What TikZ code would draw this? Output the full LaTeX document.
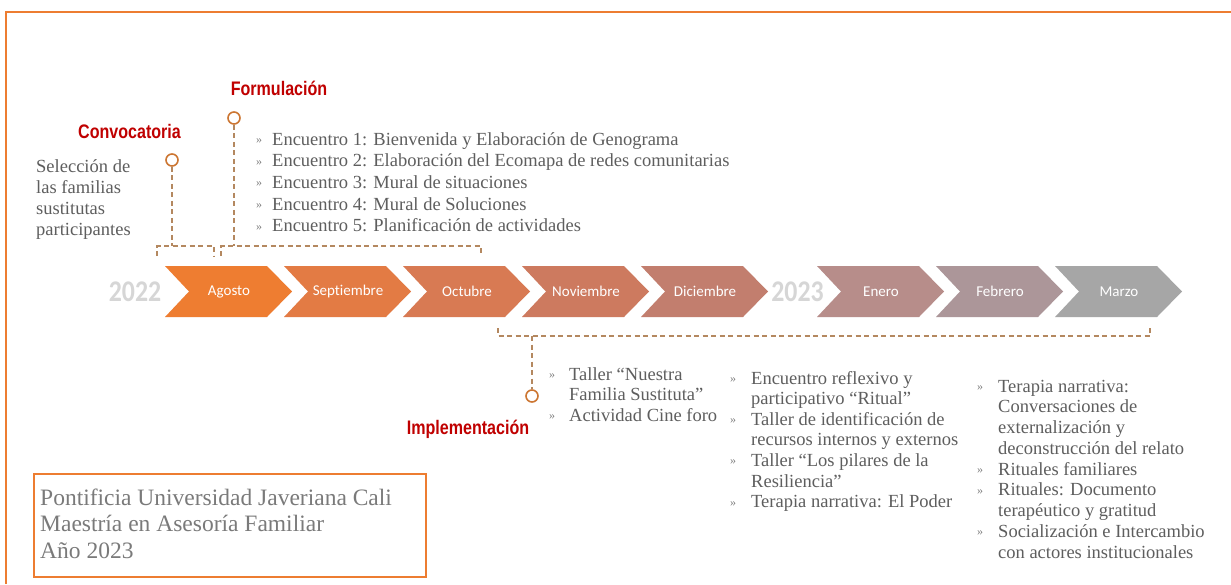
\documentclass[tikz,border=0pt]{standalone}
\usepackage{fontspec}
\usepackage{graphicx}
\setmainfont{Liberation Serif}
\newfontfamily\calib[Ligatures=NoCommon]{Carlito}
\newfontfamily\headfont{Liberation Sans}
\usetikzlibrary{calc}

\definecolor{frameC}{HTML}{ED7D31}
\definecolor{headC}{HTML}{C00000}
\definecolor{ringC}{HTML}{CC7632}
\definecolor{dashC}{HTML}{B48860}
\definecolor{txtC}{HTML}{5E5E5E}
\definecolor{boxTxt}{HTML}{7A7A7A}
\definecolor{bulC}{HTML}{808080}
\definecolor{yearC}{HTML}{D6D6D6}
\definecolor{mAgo}{HTML}{EE7D31}
\definecolor{mSep}{HTML}{E37B44}
\definecolor{mOct}{HTML}{D87A53}
\definecolor{mNov}{HTML}{CD7A5F}
\definecolor{mDic}{HTML}{C27E6E}
\definecolor{mEne}{HTML}{B78D8A}
\definecolor{mFeb}{HTML}{AC9699}
\definecolor{mMar}{HTML}{A6A6A6}

\newcommand\bul{\raisebox{1.5pt}{\color{bulC}\fontsize{12}{12}\selectfont »}}

\tikzset{
  monthlbl/.style={font=\calib\fontsize{15}{18}\selectfont, text=white, inner sep=0},
  yearlbl/.style={font=\calib\bfseries\fontsize{30}{32}\selectfont, text=yearC, inner sep=0},
  phase/.style={font=\headfont\bfseries\fontsize{19.6}{22}\selectfont, text=headC, inner sep=0, anchor=base},
  ring/.style={circle, draw=ringC, line width=1.6pt, minimum size=12pt, inner sep=0, fill=white},
  dline/.style={draw=dashC, line width=1.2pt, dash pattern=on 5pt off 3.5pt},
  listtxt/.style={font=\fontsize{18.5}{20.6}\selectfont, text=txtC, inner sep=0, anchor=base west},
}

\begin{document}
\begin{tikzpicture}[x=1pt, y=-1pt]
  \useasboundingbox (0,0) rectangle (1231,584);
  \fill[white] (0,0) rectangle (1231,584);

  % outer frame (top and left edges visible)
  \draw[frameC, line width=2pt] (6,584) -- (6,12) -- (1231,12);

  % month chevrons
  \foreach \L/\c/\m/\n in {165/mAgo/Agosto/ago, 284/mSep/Septiembre/sep, 403/mOct/Octubre/oct,
                           522/mNov/Noviembre/nov, 641/mDic/Diciembre/dic, 817/mEne/Enero/ene,
                           936/mFeb/Febrero/feb, 1055/mMar/Marzo/mar}{
    \fill[\c] (\L,266) -- ++(102,0) -- ++(25,25.5) -- ++(-25,25.5) -- ++(-102,0) -- ++(24,-25.5) -- cycle;
    \node[monthlbl] (\n) at (\L+64,291.5) {\m};
  }
  \node[yearlbl] (y22) at (135,291.5) {\scalebox{0.86}[1]{2022}};
  \node[yearlbl] (y23) at (797.5,291.5) {\scalebox{0.86}[1]{2023}};

  % phase headings and markers
  \node[phase] (convT) at (129.5,138) {\scalebox{0.82}[1]{Convocatoria}};
  \node[phase] (formT) at (279,95) {\scalebox{0.82}[1]{Formulación}};
  \node[phase] (implT) at (468,434) {\scalebox{0.82}[1]{Implementación}};

  \node[ring] (convC) at (172,160) {};
  \node[ring] (formC) at (234,118) {};
  \node[ring] (implC) at (532,396) {};

  % brackets over / under the months
  \coordinate (cbL) at (157,256); \coordinate (cbR) at (214,256);
  \coordinate (fbL) at (221,256); \coordinate (fbR) at (481,256);
  \coordinate (ibL) at (498,328); \coordinate (ibR) at (1150,328);

  \draw[dline] (cbL) -- ++(0,-10) -| (cbR);
  \draw[dline] (fbL) -- ++(0,-10) -| (fbR);
  \draw[dline] (ibL) -- ++(0,8) -| (ibR);

  \draw[dline] (convC.south) -- (convC.south |- 0,246);
  \draw[dline] (formC.south) -- (formC.south |- 0,246);
  \draw[dline] (implC.north |- 0,336) -- (implC.north);

  % texts
  \node[listtxt, font=\fontsize{18.5}{21.3}\selectfont] (sel) at (36,172)
    {\begin{tabular}[t]{@{}l@{}}
      Selección de\\las familias\\sustitutas\\participantes
    \end{tabular}};

  \node[listtxt, font=\fontsize{18.5}{21.7}\selectfont] (formL) at (256,145)
    {\begin{tabular}[t]{@{}l@{\hspace{10pt}}l@{}}
      \bul & Encuentro 1: Bienvenida y Elaboración de Genograma\\
      \bul & Encuentro 2: Elaboración del Ecomapa de redes comunitarias\\
      \bul & Encuentro 3: Mural de situaciones\\
      \bul & Encuentro 4: Mural de Soluciones\\
      \bul & Encuentro 5: Planificación de actividades
    \end{tabular}};

  \node[listtxt] (impl1) at (549,380)
    {\begin{tabular}[t]{@{}l@{\hspace{14pt}}l@{}}
      \bul & Taller “Nuestra\\
           & Familia Sustituta"\\
      \bul & Actividad Cine foro
    \end{tabular}};

  \node[listtxt] (impl2) at (730,384)
    {\begin{tabular}[t]{@{}l@{\hspace{15pt}}l@{}}
      \bul & Encuentro reflexivo y\\
           & participativo “Ritual”\\
      \bul & Taller de identificación de\\
           & recursos internos y externos\\
      \bul & Taller “Los pilares de la\\
           & Resiliencia”\\
      \bul & Terapia narrativa: El Poder
    \end{tabular}};

  \node[listtxt, font=\fontsize{18.5}{20.75}\selectfont] (impl3) at (977,392)
    {\begin{tabular}[t]{@{}l@{\hspace{15pt}}l@{}}
      \bul & Terapia narrativa:\\
           & Conversaciones de\\
           & externalización y\\
           & deconstrucción del relato\\
      \bul & Rituales familiares\\
      \bul & Rituales: Documento\\
           & terapéutico y gratitud\\
      \bul & Socialización e Intercambio\\
           & con actores institucionales
    \end{tabular}};

  % credit box
  \node[draw=frameC, line width=2pt, anchor=north west, minimum width=392pt,
        minimum height=103pt, inner sep=0] (box) at (33,473) {};
  \node[listtxt, text=boxTxt, font=\fontsize{23.5}{26.5}\selectfont] (credit) at (40,505)
    {\begin{tabular}[t]{@{}l@{}}
      Pontificia Universidad Javeriana Cali\\Maestría en Asesoría Familiar\\Año 2023
    \end{tabular}};
\end{tikzpicture}
\end{document}
